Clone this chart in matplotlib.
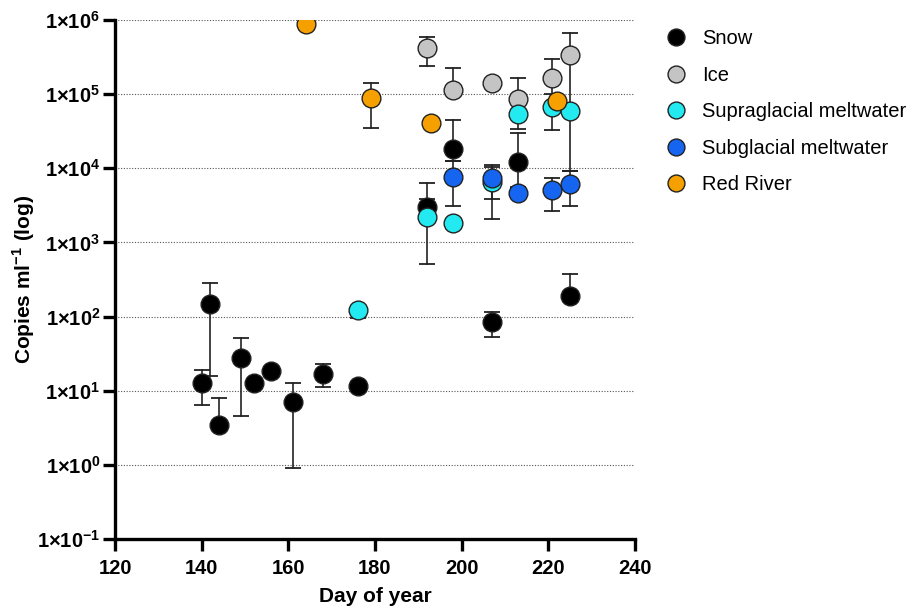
import numpy as np
import matplotlib
matplotlib.use("Agg")
import matplotlib.pyplot as plt
from matplotlib.ticker import FixedLocator, FuncFormatter

plt.rcParams['font.family'] = ['Liberation Sans', 'DejaVu Sans']
plt.rcParams['mathtext.fontset'] = 'custom'
plt.rcParams['mathtext.rm'] = 'Liberation Sans'
plt.rcParams['mathtext.bf'] = 'Liberation Sans:bold'

# values (None = no bar on that side)
snow_day = [140, 142, 144, 149, 152, 156, 161, 168, 176, 192, 198, 207, 213, 225]
snow_val = [12.7, 149, 3.5, 28, 12.7, 18.2, 7.0, 17, 11.7, 3050, 18300, 84, 12300, 190]
snow_lo = [6.5, 15.9, None, 4.5, None, None, 0.92, 11.1, None, None, 12600, 53, 5560, None]
snow_hi = [19.2, 282, 8.0, 51, None, None, 12.9, 23, None, 6400, 44900, 117, 30300, 374]

ice_day = [192, 198, 207, 213, 221, 225]
ice_val = [415000, 113000, 140000, 85300, 167000, 337000]
ice_lo = [242000, None, None, None, 100000, 9300]
ice_hi = [596000, 225000, None, 165000, 298000, 660000]

supra_day = [176, 192, 198, 207, 213, 221, 225]
supra_val = [124, 2190, 1850, 6620, 53600, 67900, 59400]
supra_lo = [95, 510, None, 2040, 33600, 33000, None]
supra_hi = [None, 3870, None, 10300, None, None, None]

sub_day = [198, 207, 213, 221, 225]
sub_val = [7730, 7350, 4710, 5120, 6170]
sub_lo = [3080, 3870, None, 2690, 3110]
sub_hi = [12600, 11000, None, 7500, 9300]

river_day = [164, 179, 193, 222]
river_val = [884000, 89800, 41300, 81700]
river_lo = [None, 35000, None, None]
river_hi = [None, 143000, None, None]

series = [
    ("Snow", snow_day, snow_val, snow_lo, snow_hi, "#000000"),
    ("Ice", ice_day, ice_val, ice_lo, ice_hi, "#c4c4c4"),
    ("Supraglacial meltwater", supra_day, supra_val, supra_lo, supra_hi, "#22eaf0"),
    ("Subglacial meltwater", sub_day, sub_val, sub_lo, sub_hi, "#1565f0"),
    ("Red River", river_day, river_val, river_lo, river_hi, "#f6a000"),
]

BAR_COLOR = '#222222'

fig = plt.figure(figsize=(9.2, 6.08), dpi=100)
ax = fig.add_axes([0.125, 0.1135, 0.565, 0.8536])

handles = []
for name, day, val, lo, hi, color in series:
    # one-sided bars drawn by hand so no cap sits on the marker itself
    for d, v, l, h in zip(day, val, lo, hi):
        for end in (l, h):
            if end is None:
                continue
            ax.plot([d, d], [v, end], color=BAR_COLOR, lw=1.2, zorder=2)
            ax.plot([d], [end], marker='_', ms=12, mew=1.3, color=BAR_COLOR, zorder=2)
    h, = ax.plot(day, val, 'o', ms=13.5, mfc=color, mec='#222222', mew=1.0,
                 ls='none', label=name, zorder=3)
    handles.append(h)

ax.set_yscale('log')
ax.set_ylim(0.1, 1e6)
ax.set_xlim(120, 240)
ax.set_xticks(np.arange(120, 241, 20))
ax.yaxis.set_major_locator(FixedLocator([10.0 ** e for e in range(-1, 7)]))
ax.yaxis.set_minor_locator(FixedLocator([]))
ax.yaxis.set_major_formatter(FuncFormatter(
    lambda v, p: r'$\mathbf{1{\times}10^{%d}}$' % int(round(np.log10(v)))))

ax.grid(axis='y', ls=(0, (1, 1.5)), color='#555555', lw=0.8)
ax.set_axisbelow(True)

for s in ['top', 'right']:
    ax.spines[s].set_visible(False)
for s in ['left', 'bottom']:
    ax.spines[s].set_linewidth(2.4)
ax.tick_params(axis='both', which='major', length=8.6, width=2.4, labelsize=14.5)
ax.tick_params(axis='y', pad=2)
ax.tick_params(axis='x', pad=6)
for lbl in ax.get_xticklabels():
    lbl.set_fontweight('bold')

ax.set_xlabel('Day of year', fontsize=15, fontweight='bold', labelpad=6.5)
ax.set_ylabel(r'Copies ml$^{\mathbf{-1}}$ (log)', fontsize=15, fontweight='bold', labelpad=0)

fig.legend(handles=handles, loc='upper left', bbox_to_anchor=(0.703, 0.982),
           frameon=False, fontsize=14.5, handletextpad=0.75, labelspacing=0.87,
           markerscale=0.9, handlelength=1.1)

fig.savefig('out.png', dpi=100)
